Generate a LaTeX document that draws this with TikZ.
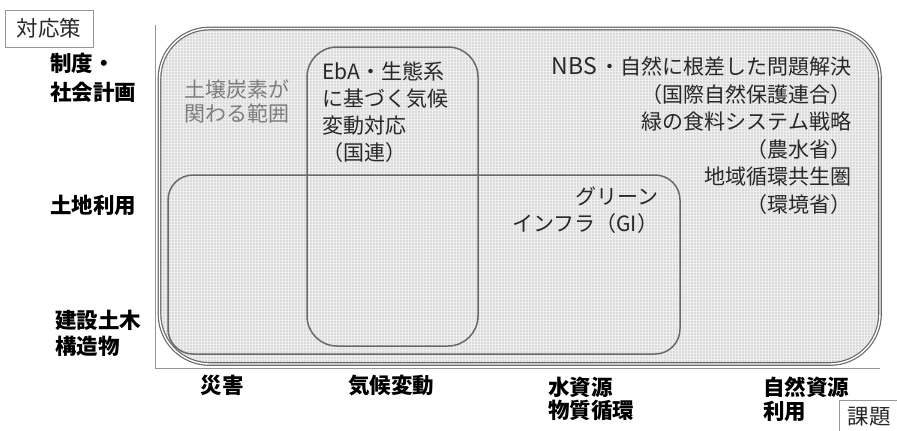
\documentclass[tikz,border=0pt]{standalone}
\usepackage{fontspec}
\usetikzlibrary{patterns.meta}
\newfontfamily\jp{Noto Sans CJK JP}
\definecolor{boxfill}{RGB}{218,218,218}
\definecolor{boxline}{RGB}{105,105,105}
\definecolor{axisline}{RGB}{150,150,150}
\definecolor{softtext}{RGB}{125,125,125}
\definecolor{darktext}{RGB}{40,40,40}
\begin{document}
\begin{tikzpicture}[x=1pt,y=-1pt,
  every node/.style={inner sep=0pt,outer sep=0pt},
  body/.style={font=\jp\fontsize{21}{27}\selectfont,text=darktext},
  axislab/.style={font=\jp\bfseries\fontsize{21.5}{26}\selectfont,text=black},
  tagbox/.style={draw=axisline,line width=0.8pt,fill=white,font=\jp\fontsize{21.5}{24}\selectfont,text=darktext,inner xsep=5pt,inner ysep=3pt},
  region/.style={draw=boxline,line width=1.5pt}
]
\useasboundingbox (0,0) rectangle (897,431);
% axes
\coordinate (ytop) at (155,25);
\coordinate (orig) at (155,368);
\coordinate (xend) at (880,368);
\draw[axisline,line width=1pt] (ytop) -- (orig) -- (xend);
% outer region
\fill[boxfill,rounded corners=50pt] (159.5,28.5) rectangle (880,364);
\fill[pattern={Lines[distance=3pt,angle=0,line width=0.6pt]},pattern color=white!60!boxfill,rounded corners=50pt] (159.5,28.5) rectangle (880,364);
\fill[pattern={Lines[distance=3pt,angle=90,line width=0.6pt]},pattern color=white!60!boxfill,rounded corners=50pt] (159.5,28.5) rectangle (880,364);
\draw[draw=boxline,line width=1.2pt,double=white,double distance=1.4pt,rounded corners=50pt]
  (159.5,28.5) rectangle (880,364);
% GI region
\draw[region,rounded corners=25pt] (168,175) rectangle (680,354);
% EbA region
\draw[region,rounded corners=30pt] (307,47) rectangle (478,346);
% texts
\node[body,text=softtext,anchor=north west,align=left,font=\jp\fontsize{21}{24}\selectfont] (tanso) at (184,80) {土壌炭素が\\関わる範囲};
\node[body,anchor=north west,align=left] (eba) at (322,62) {EbA・生態系\\に基づく気候\\変動対応\\（国連）};
\node[body,anchor=north east,align=right,font=\jp\fontsize{21}{27.5}\selectfont] (nbs) at (851,57) {{\fontsize{23}{27.5}\selectfont NBS}\kern2pt・自然に根差した問題解決\\（国際自然保護連合）\\緑の食料システム戦略\\（農水省）\\地域循環共生圏\\（環境省）};
\node[body,anchor=north east,align=right] (gi) at (658,187) {グリーン\\インフラ（GI）};
% axis labels
\node[axislab,anchor=north west,align=left,font=\jp\bfseries\fontsize{21.5}{29}\selectfont] (seido) at (50,53) {制度・\\社会計画};
\node[axislab,anchor=north west] (tochi) at (50,195) {土地利用};
\node[axislab,anchor=north west,align=left] (kensetsu) at (55,310) {建設土木\\構造物};
\node[axislab,anchor=north] (saigai) at (222,375) {災害};
\node[axislab,anchor=north] (kiko) at (391,375) {気候変動};
\node[axislab,anchor=north west,align=left,font=\jp\bfseries\fontsize{21.5}{23.5}\selectfont] (mizu) at (548,377) {水資源\\物質循環};
\node[axislab,anchor=north west,align=left,font=\jp\bfseries\fontsize{21.5}{23.5}\selectfont] (shizen) at (763,377) {自然資源\\利用};
% tag boxes
\node[tagbox,anchor=north west,minimum width=88pt,minimum height=37pt] (taiou) at (5,10) {対応策};
\node[tagbox,anchor=north west,minimum width=60pt,minimum height=33pt] (kadai) at (839,400) {課題};
\end{tikzpicture}
\end{document}
